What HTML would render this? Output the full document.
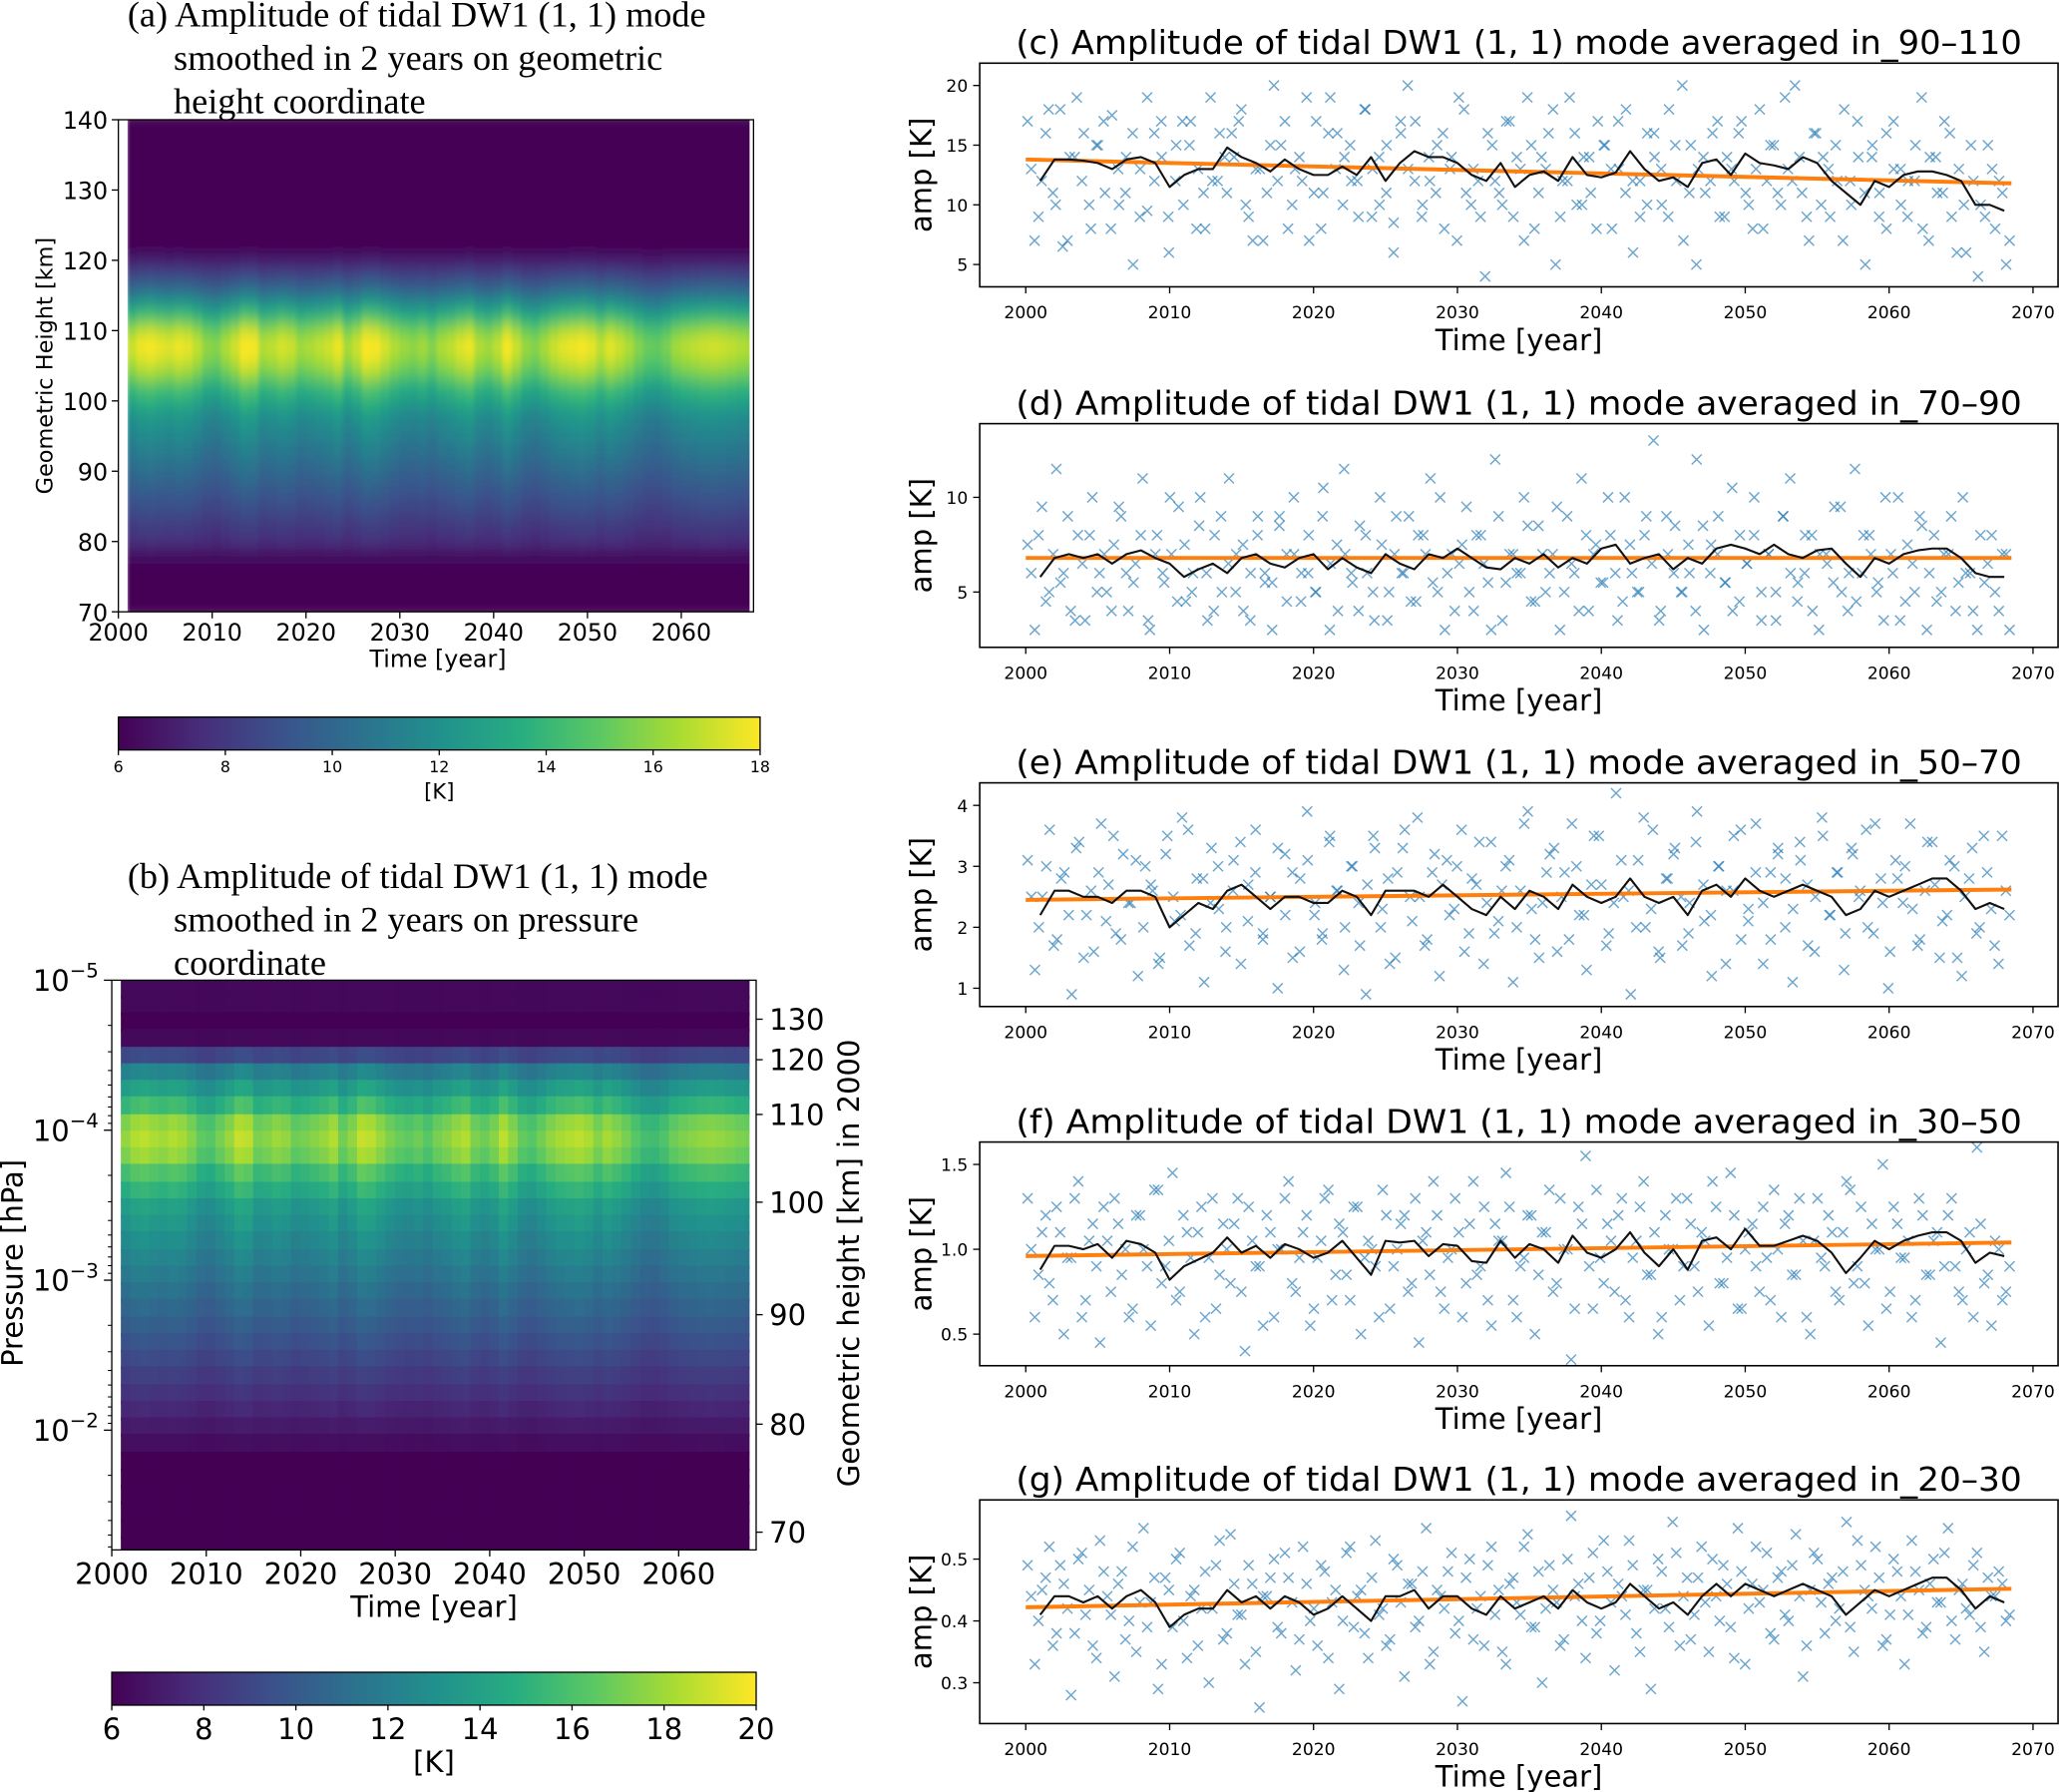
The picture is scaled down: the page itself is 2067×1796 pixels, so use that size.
<!DOCTYPE html>
<html><head><meta charset="utf-8"><style>
html,body{margin:0;padding:0;background:#fff;}
svg{display:block;}
text{font-family:"DejaVu Sans","Liberation Sans",sans-serif;fill:#000;}
.serif{font-family:"Liberation Serif",serif;}
</style></head><body>
<svg id="fig" xmlns="http://www.w3.org/2000/svg" width="2067" height="1796" viewBox="0 0 1568 1362" preserveAspectRatio="none">
<defs>
<filter id="blurA" x="-5%" y="-5%" width="110%" height="110%"><feGaussianBlur stdDeviation="1.5 5"/></filter>
<clipPath id="clipA"><rect x="97" y="91" width="473" height="374"/></clipPath>
<clipPath id="clipB"><rect x="91" y="745" width="479" height="433"/></clipPath>
<linearGradient id="vir" x1="0" x2="1" y1="0" y2="0">
<stop offset="0" stop-color="#440154"/><stop offset="0.125" stop-color="#472c7a"/><stop offset="0.25" stop-color="#3b518b"/><stop offset="0.375" stop-color="#2c718e"/><stop offset="0.5" stop-color="#21908d"/><stop offset="0.625" stop-color="#27ad81"/><stop offset="0.75" stop-color="#5cc863"/><stop offset="0.875" stop-color="#aadc32"/><stop offset="1" stop-color="#fde725"/>
</linearGradient>
</defs>
</svg>
<script>
// ---------- data ----------
const yearFactor = [1.02,1.08,1.1,1.07,1.05,1.08,1.06,1.0,0.92,0.9,0.97,1.03,1.12,1.1,0.98,1.0,1.04,1.02,0.95,0.97,1.0,1.03,1.08,0.96,1.02,1.12,1.1,1.04,0.98,0.94,0.92,0.95,0.9,0.97,1.0,1.05,1.08,0.98,0.95,1.0,1.1,1.02,0.93,0.9,0.96,1.02,1.06,1.08,1.1,1.07,1.0,1.06,1.02,0.97,0.9,0.85,0.84,0.88,0.95,0.98,1.0,1.02,1.03,1.02,1.0,0.98,0.97];
const heightsA = [70,72,74,76,78,80,82,84,86,88,90,92,94,96,98,100,102,104,106,108,110,112,114,116,118,120,122,124,126,128,130,132,134,136,138,140];
const profileA = [5,5,5,5.5,6.5,7.5,8,8.5,9,9.5,10,10.5,11,11.5,12,13,14,15.5,16.5,17,16,14,12,10,8.5,7,6,5.5,5.5,5.5,5.8,6.1,6.1,5.8,5.5,5.5];
const logpB = [-4.94,-4.83,-4.72,-4.61,-4.49,-4.38,-4.27,-4.16,-4.04,-3.93,-3.82,-3.71,-3.59,-3.48,-3.37,-3.26,-3.14,-3.03,-2.92,-2.81,-2.69,-2.58,-2.47,-2.36,-2.24,-2.13,-2.02,-1.91,-1.79,-1.68,-1.57,-1.46,-1.34,-1.23,-1.12];
const profileB = [6.3,6.3,6,6.3,9,12,13.5,15,17,17.5,17,15.5,14.5,13.5,13,12.5,12,11.5,11,10.5,10,9.5,9,8.5,8,7.5,7,6.5,5,5,5,5,5,5,5];
const rightHeights = [130,120,110,100,90,80,70];
const rightHeightLogp = [-4.74,-4.47,-4.105,-3.52,-2.77,-2.04,-1.32];
const xTicksLeft = [2000,2010,2020,2030,2040,2050,2060];
const xTicksRight = [2000,2010,2020,2030,2040,2050,2060,2070];
const cbTicksA = [6,8,10,12,14,16,18];
const cbTicksB = [6,8,10,12,14,16,18,20];

const scatterC = [17,7,12,18,10,6.5,14,19,16,8,15,11,17.5,10,14,5,13,9.5,16,17,9,12,17,15,8,11,19,12,14,16,17,10,7,13,11,20,15,8,13,12,7,17,11,19,16,14,12,9,18,13,10,15,8.5,17,20,12,9,14,11,16,13,7,18,10,12,4,15,11,17,9,13,19,8,14,16,5,12,19,10,14,11,17,15,8,13,18,6,12,10,16,13,9,15,20,11,5,14,12,17,9,13,16,11,8,18,12,15,10,13,20,11,7,16,14,9,12,18,10,14,5,15,11,8,17,13,9,12,19,7,14,11,16,6,10,15,4,9,13,12,5];
const scatterC2 = [13,9,16,11,18,7,14,12,10,15,17,8,13,11,16,9,19,12,14,6,15,10,17,13,8,12,16,11,14,18,9,13,7,15,12,17,10,14,19,11,8,16,13,10,15,12,18,9,14,11,6,16,13,17,10,12,15,8,14,19,11,13,9,16,12,10,17,14,7,15,11,13,18,9,12,16,10,14,8,15,13,17,11,12,9,16,14,10,18,12,7,15,13,11,16,9,14,12,17,10,13,8,15,11,19,12,14,9,16,10,13,15,7,12,17,11,14,9,16,13,10,12,15,8,14,11,17,9,13,6,12,10,15,8,11,7];
const smoothC = [12,13.8,13.8,13.7,13.5,13,13.8,14,13.5,11.5,12.5,13,13,14.8,14,13.5,12.8,13.8,13,12.5,12.5,13.2,12.5,14,12,13.5,14.5,14,14,13.5,12.5,12,13.5,11.5,12.5,12.8,12,14,12.5,12.3,12.7,14.5,13,12,12.3,11.5,13.5,13.8,12.5,14.3,13.5,13.3,13,14,13.5,12,11,10,12,11.5,12.5,12.8,12.8,12.5,12,10,10,9.5];
const trendC = [13.8,11.8];
const scatterD = [7.5,3,9.5,5,11.5,6,4,8,3.5,10,6,5,7.5,9,4,6.5,11,3,8,5.5,7,9.5,4.5,6,10,3.5,8,5,11,7,4,6,9,5.5,3,8.5,7,10,4.5,6,5,9,3,7.5,11.5,6,4,8,5,10,3.5,7,6,9,4.5,8,11,5,3,7,6.5,9.5,4,8,5.5,12,3.5,7,6,10,4.5,8.5,5,7,3,9,6,11,4,7.5,5.5,8,3.5,10,6,5,9,13,4,7,8.5,5,6,12,3,7.5,9,5.5,4,8,6.5,10,3.5,7,5,9,11,4.5,6,8,3,7,5.5,9.5,4,11.5,6,8,5,3.5,7,10,4.5,6.5,9,3,8,5,7,4,10,6,3,5.5,8,4,7];
const scatterD2 = [6,8,4.5,7,5.5,9,3.5,6.5,8,5,7,4,9.5,6,5.5,8,3.5,7,6,10,4.5,7.5,5,8.5,6,4,9,6.5,5,7.5,3.5,8,6,5.5,9,4.5,7,6,8,5,10.5,6.5,4,7,5.5,8.5,6,3.5,7.5,5,9,6,4.5,8,7,5.5,10,6,4,7.5,5,8,6.5,3,9,5.5,7,6,8.5,4.5,7,6,9.5,5,6.5,4,8,7,5.5,10,6,4.5,7.5,5,8,6.5,3.5,9,6,5,7.5,4,8.5,6,7,5.5,10.5,4.5,6.5,8,5,7,3.5,9,6,5.5,8,4,7,6.5,9.5,5,6,4.5,8,7,5.5,10,6,3.5,7.5,5,8.5,6,4.5,7,9,5.5,6,4,8,6.5,5,7,3];
const smoothD = [5.8,6.8,7,6.8,7,6.5,7,7.2,6.8,6.5,5.8,6.2,6.5,6,6.8,7,6.5,6.3,6.8,7,6.2,6.8,6.3,6,7,6.5,6.2,7,6.8,7.3,6.8,6.3,6.2,6.8,6.5,7,6.3,6.8,6.5,7.3,7.5,6.5,6.8,7,6.2,6.8,6.5,7.3,7.5,7.3,7,7.5,7,6.8,7.2,7.3,6.5,5.8,6.8,6.5,7,7.2,7.3,7.3,6.8,6,5.8,5.8];
const trendD = [6.8,6.8];
const scatterE = [3.1,1.3,2.5,3.6,1.8,2.9,0.9,3.4,2.2,1.6,3.7,2.7,1.9,3.2,2.4,1.2,3.0,2.6,1.5,3.5,2.1,3.8,1.7,2.8,1.1,3.3,2.3,2.0,3.1,1.4,2.7,3.6,1.9,2.5,1.0,3.2,2.9,1.6,3.9,2.2,1.8,3.4,2.6,1.3,3.0,2.4,0.9,3.5,2.0,2.8,1.5,3.3,2.5,3.8,1.7,2.9,1.2,3.1,2.3,3.6,1.9,2.7,1.4,3.4,2.1,3.0,1.1,2.6,3.9,1.8,2.4,3.2,1.6,2.9,3.7,2.2,1.3,3.5,2.7,1.9,4.2,2.5,0.9,3.1,2.0,3.6,1.5,2.8,3.3,1.7,2.4,3.9,2.1,1.2,3.0,2.6,3.5,1.8,2.3,3.7,1.4,2.9,3.2,2.0,1.1,3.4,2.7,1.6,3.8,2.2,2.9,1.3,3.3,2.5,3.6,1.9,2.8,1.0,3.1,2.4,3.7,1.7,2.6,3.4,1.5,2.2,3.0,1.2,2.8,1.9,3.5,2.3,1.4,2.6];
const scatterE2 = [2.5,2.0,3.0,1.7,2.8,2.2,3.3,1.5,2.6,2.9,2.1,3.5,1.8,2.4,3.1,2.0,2.7,1.4,3.2,2.5,2.2,3.6,1.9,2.8,2.4,3.0,1.6,2.6,3.4,2.1,2.9,1.8,2.5,3.3,2.2,1.5,2.8,3.1,2.4,1.9,3.5,2.6,2.0,3.0,1.7,2.7,3.3,2.3,1.4,2.9,3.6,2.1,2.5,1.8,3.2,2.7,2.2,3.0,1.6,2.8,3.4,2.4,1.9,2.6,3.1,2.0,3.7,2.3,1.5,2.9,3.3,2.5,1.8,3.0,2.2,2.7,3.5,1.7,2.4,3.1,2.6,2.0,3.8,2.3,1.6,2.8,3.2,2.5,1.9,3.4,2.7,2.2,3.0,1.4,2.6,3.6,2.1,2.9,2.4,1.8,3.3,2.8,2.3,3.1,1.7,2.5,3.5,2.2,2.9,1.9,3.2,2.6,2.0,3.7,2.4,1.6,2.8,3.0,2.3,1.8,3.4,2.7,2.1,3.1,1.5,2.5,3.3,2.0,2.9,1.7,3.5,2.2];
const smoothE = [2.2,2.6,2.6,2.5,2.5,2.4,2.6,2.6,2.5,2.0,2.2,2.4,2.3,2.6,2.7,2.5,2.3,2.5,2.5,2.4,2.4,2.6,2.5,2.2,2.6,2.6,2.6,2.5,2.7,2.5,2.3,2.2,2.5,2.3,2.6,2.5,2.3,2.7,2.5,2.4,2.5,2.8,2.5,2.4,2.5,2.2,2.6,2.7,2.5,2.8,2.6,2.5,2.6,2.7,2.6,2.5,2.2,2.3,2.6,2.5,2.6,2.7,2.8,2.8,2.6,2.3,2.4,2.3];
const trendE = [2.45,2.62];
const scatterF = [1.3,0.6,1.1,0.8,1.25,0.5,0.95,1.4,0.7,1.15,0.45,1.05,1.3,0.85,0.6,1.2,1.0,0.55,1.35,0.9,1.45,0.75,1.1,0.5,1.25,0.95,0.65,1.15,0.8,1.3,0.4,1.05,0.9,1.2,0.6,1.0,1.4,0.75,1.1,0.55,0.95,1.3,0.7,1.15,0.85,1.25,0.5,1.05,0.9,1.35,0.65,1.0,1.2,0.8,0.45,1.1,1.4,0.75,0.95,1.3,0.6,1.15,0.85,1.25,0.55,1.05,1.45,0.7,0.9,1.2,0.5,1.1,1.35,0.8,1.0,0.35,1.25,1.55,0.65,0.95,1.15,0.75,1.3,0.6,1.05,1.4,0.85,0.5,1.2,1.0,0.7,1.3,0.9,1.1,0.55,1.25,0.8,1.45,0.65,1.0,1.15,0.75,0.95,1.35,0.6,1.2,0.85,1.05,0.5,1.3,0.9,1.1,0.7,1.4,0.8,1.25,0.55,1.0,1.5,0.75,1.15,0.95,0.6,1.3,0.85,1.05,0.45,1.2,0.9,0.7,1.1,1.6,0.8,0.55,1.0,0.75];
const scatterF2 = [1.0,0.85,1.2,0.7,1.1,0.95,1.3,0.6,1.05,0.9,1.25,0.75,1.15,1.0,0.65,1.2,0.9,1.35,0.8,1.05,0.7,1.2,0.95,1.1,0.6,1.3,0.85,1.0,1.15,0.75,1.25,0.9,0.55,1.1,1.0,1.3,0.8,0.95,1.2,0.65,1.05,1.35,0.85,1.1,0.7,1.25,0.95,1.0,0.6,1.2,0.9,1.15,0.75,1.3,1.05,0.85,1.2,0.65,1.0,1.1,0.8,1.4,0.9,0.7,1.15,1.05,1.25,0.6,0.95,1.2,0.85,1.1,0.75,1.3,1.0,0.65,1.15,0.9,1.35,0.8,1.05,1.2,0.7,0.95,1.25,0.85,1.1,0.6,1.0,1.3,0.9,1.15,0.75,1.05,1.4,0.8,0.95,1.2,0.65,1.1,0.9,1.25,0.7,1.0,1.15,0.85,1.3,0.6,1.05,0.95,1.2,0.75,1.1,1.35,0.9,0.8,1.15,1.0,0.65,1.25,0.95,1.05,0.7,1.2,0.85,1.1,0.9,1.3,0.75,1.0,0.6,1.15,0.85,1.05,0.7,0.9];
const smoothF = [0.88,1.02,1.02,1.0,1.03,0.95,1.05,1.03,0.98,0.82,0.9,0.94,0.98,1.07,0.98,1.02,0.95,1.03,1.0,0.95,0.98,1.05,0.95,0.85,1.05,1.04,1.05,0.96,1.03,1.02,0.93,0.92,1.05,0.95,1.03,1.0,0.92,1.08,0.98,0.95,1.0,1.1,0.98,0.9,1.0,0.88,1.05,1.07,1.0,1.12,1.02,1.02,1.05,1.08,1.05,0.98,0.86,0.95,1.05,1.0,1.05,1.08,1.1,1.1,1.05,0.92,0.98,0.96];
const trendF = [0.96,1.04];
const scatterG = [0.49,0.33,0.45,0.52,0.38,0.46,0.28,0.50,0.41,0.36,0.53,0.44,0.31,0.48,0.40,0.35,0.55,0.43,0.29,0.47,0.39,0.51,0.34,0.45,0.42,0.30,0.49,0.37,0.54,0.41,0.33,0.46,0.26,0.44,0.50,0.38,0.47,0.32,0.52,0.40,0.36,0.48,0.43,0.29,0.51,0.39,0.45,0.34,0.53,0.42,0.37,0.49,0.31,0.46,0.40,0.55,0.35,0.44,0.48,0.38,0.27,0.50,0.42,0.36,0.52,0.45,0.33,0.47,0.41,0.54,0.39,0.30,0.49,0.43,0.37,0.57,0.46,0.34,0.51,0.40,0.48,0.32,0.44,0.53,0.38,0.45,0.29,0.50,0.42,0.56,0.36,0.47,0.41,0.52,0.35,0.44,0.49,0.39,0.55,0.33,0.46,0.43,0.51,0.37,0.48,0.40,0.54,0.31,0.45,0.50,0.38,0.47,0.42,0.56,0.35,0.49,0.44,0.52,0.36,0.41,0.48,0.33,0.53,0.45,0.39,0.50,0.43,0.55,0.37,0.46,0.41,0.51,0.35,0.44,0.48,0.40];
const scatterG2 = [0.44,0.40,0.47,0.36,0.49,0.42,0.38,0.51,0.45,0.34,0.48,0.41,0.46,0.37,0.52,0.43,0.39,0.47,0.33,0.45,0.50,0.40,0.44,0.36,0.48,0.42,0.53,0.38,0.46,0.41,0.49,0.35,0.44,0.47,0.39,0.51,0.43,0.37,0.46,0.42,0.49,0.34,0.45,0.40,0.52,0.44,0.38,0.47,0.41,0.36,0.50,0.43,0.46,0.39,0.48,0.33,0.45,0.42,0.51,0.40,0.47,0.37,0.44,0.49,0.41,0.35,0.46,0.43,0.52,0.39,0.48,0.42,0.45,0.36,0.50,0.44,0.40,0.47,0.38,0.53,0.43,0.46,0.41,0.49,0.35,0.45,0.42,0.48,0.39,0.51,0.44,0.37,0.47,0.43,0.50,0.40,0.46,0.34,0.48,0.42,0.52,0.45,0.38,0.47,0.41,0.49,0.44,0.36,0.51,0.43,0.46,0.40,0.48,0.39,0.53,0.45,0.42,0.47,0.37,0.50,0.44,0.41,0.48,0.38,0.46,0.43,0.51,0.40,0.45,0.42,0.49,0.39,0.47,0.44,0.46,0.41];
const smoothG = [0.41,0.44,0.44,0.43,0.44,0.42,0.44,0.45,0.43,0.39,0.41,0.42,0.42,0.45,0.43,0.44,0.42,0.44,0.43,0.41,0.42,0.44,0.42,0.40,0.44,0.44,0.45,0.42,0.44,0.44,0.42,0.41,0.44,0.42,0.43,0.44,0.42,0.45,0.43,0.42,0.43,0.46,0.44,0.42,0.43,0.41,0.44,0.46,0.44,0.46,0.45,0.44,0.45,0.46,0.45,0.44,0.41,0.43,0.45,0.44,0.45,0.46,0.47,0.47,0.45,0.42,0.44,0.43];
const trendG = [0.422,0.452];
const ticksC = [5,10,15,20], ticksD = [5,10], ticksE = [1,2,3,4], ticksF = [0.5,1.0,1.5], ticksG = [0.3,0.4,0.5];
const labelsF = ["0.5","1.0","1.5"], labelsG = ["0.3","0.4","0.5"];

// ---------- helpers ----------
const NS = "http://www.w3.org/2000/svg";
const fig = document.getElementById('fig');
function mk(tag, attrs, parent){
  const e = document.createElementNS(NS, tag);
  for (const k in attrs) e.setAttribute(k, attrs[k]);
  (parent || fig).appendChild(e);
  return e;
}
function txt(s, attrs, parent){ const t = mk('text', attrs, parent); t.textContent = s; return t; }
const VIR = [[68,1,84],[71,44,122],[59,81,139],[44,113,142],[33,144,141],[39,173,129],[92,200,99],[170,220,50],[253,231,37]];
function viridis(u){
  u = Math.max(0, Math.min(1, u));
  const p = u*8, i = Math.min(7, Math.floor(p)), f = p - i;
  const a = VIR[i], b = VIR[i+1];
  return 'rgb(' + [0,1,2].map(k => Math.round(a[k] + (b[k]-a[k])*f)).join(',') + ')';
}

// ---------- titles (left) ----------
function serifTitle(lines, x0, y0, name){
  const g = mk('g', {});
  
  
  lines.forEach((s, i) => {
    txt(s, {x: i === 0 ? x0 : x0 + 35, y: y0 + i*33, 'font-size': 27.5, class: 'serif'}, g);
  });
}
serifTitle(["(a) Amplitude of tidal DW1 (1, 1) mode", "smoothed in 2 years on geometric", "height coordinate"], 97, 20, 'panel-a-title');
serifTitle(["(b) Amplitude of tidal DW1 (1, 1) mode", "smoothed in 2 years on pressure", "coordinate"], 97, 675, 'panel-b-title');

// ---------- panel a ----------
(function(){
  const L = 90, R = 573, T = 91, B = 465, x0 = 2000, x1 = 2067.7;
  const sx = v => L + (v - x0) / (x1 - x0) * (R - L);
  const sy = h => B - (h - 70) / 70 * (B - T);
  const g = mk('g', {'clip-path': 'url(#clipA)'});
  
  
  const gi = mk('g', {filter: 'url(#blurA)'}, g);
  yearFactor.forEach((f, i) => {
    heightsA.forEach((h, j) => {
      const v = 6 + (profileA[j] - 6) * f;
      const c = mk('rect', {x: sx(2001 + i) - 0.5, y: sy(h + 1) - 0.5, width: sx(2002 + i) - sx(2001 + i) + 1, height: sy(h - 1) - sy(h + 1) + 1, fill: viridis((v - 6) / 12)}, gi);
      
      
    });
  });
  const fr = mk('rect', {x: L, y: T, width: R - L, height: B - T, fill: 'none', stroke: '#000', 'stroke-width': 1});
  
  
  [70,80,90,100,110,120,130,140].forEach(h => {
    mk('line', {x1: L - 5, x2: L, y1: sy(h), y2: sy(h), stroke: '#000'});
    const t = txt(h, {x: L - 8, y: sy(h) + 7, 'font-size': 18, 'text-anchor': 'end'});
    
    
  });
  xTicksLeft.forEach(yv => {
    mk('line', {x1: sx(yv), x2: sx(yv), y1: B, y2: B + 5, stroke: '#000'});
    const t = txt(yv, {x: sx(yv), y: B + 22, 'font-size': 18, 'text-anchor': 'middle'});
    
    
  });
  const xl = txt('Time [year]', {x: 333, y: 507, 'font-size': 18, 'text-anchor': 'middle'});
  
  
  const yl = txt('Geometric Height [km]', {x: 0, y: 0, 'font-size': 17, 'text-anchor': 'middle', transform: 'translate(40,278) rotate(-90)'});
  
  
  const cb = mk('rect', {x: 90, y: 545, width: 488, height: 25, fill: 'url(#vir)', stroke: '#000', 'stroke-width': 1});
  
  
  cbTicksA.forEach(v => {
    const x = 90 + (v - 6) / 12 * 488;
    mk('line', {x1: x, x2: x, y1: 570, y2: 574, stroke: '#000'});
    const t = txt(v, {x: x, y: 587, 'font-size': 12, 'text-anchor': 'middle'});
    
    
  });
  const u = txt('[K]', {x: 334, y: 607, 'font-size': 16, 'text-anchor': 'middle'});
  
  
})();

// ---------- panel b ----------
(function(){
  const L = 85, R = 575, T = 745, B = 1178, x0 = 2000, x1 = 2068.2;
  const sx = v => L + (v - x0) / (x1 - x0) * (R - L);
  const sy = lp => T + (lp + 5) * 114;
  const g = mk('g', {'clip-path': 'url(#clipB)'});
  
  
  const half = 0.066;
  yearFactor.forEach((f, i) => {
    logpB.forEach((lp, j) => {
      const v = 6 + (profileB[j] - 6) * f;
      const c = mk('rect', {x: sx(2001 + i) - 0.3, y: sy(lp - half), width: sx(2002 + i) - sx(2001 + i) + 0.6, height: sy(lp + half) - sy(lp - half), fill: viridis((v - 6) / 14)}, g);
      
      
    });
  });
  const fr = mk('rect', {x: L, y: T, width: R - L, height: B - T, fill: 'none', stroke: '#000', 'stroke-width': 1});
  
  
  [-5,-4,-3,-2].forEach(e => {
    mk('line', {x1: L - 6, x2: L, y1: sy(e), y2: sy(e), stroke: '#000'});
    const t = txt('', {x: L - 10, y: sy(e) + 8, 'font-size': 22, 'text-anchor': 'end'});
    
    
    const a = mk('tspan', {}, t); a.textContent = '10';
    const b = mk('tspan', {dy: -10, 'font-size': 15}, t); b.textContent = '\u2212' + (-e);
  });
  for (let e = -5; e < -1; e++) for (let k = 2; k <= 9; k++) {
    const lp = e + Math.log10(k);
    if (lp < -1.2) mk('line', {x1: L - 3, x2: L, y1: sy(lp), y2: sy(lp), stroke: '#000', 'stroke-width': 0.8});
  }
  rightHeights.forEach((h, i) => {
    const y = sy(rightHeightLogp[i]);
    mk('line', {x1: R, x2: R + 5, y1: y, y2: y, stroke: '#000'});
    const t = txt(h, {x: R + 10, y: y + 8, 'font-size': 22});
    
    
  });
  xTicksLeft.forEach(yv => {
    mk('line', {x1: sx(yv), x2: sx(yv), y1: B, y2: B + 5, stroke: '#000'});
    const t = txt(yv, {x: sx(yv), y: B + 26, 'font-size': 22, 'text-anchor': 'middle'});
    
    
  });
  const xl = txt('Time [year]', {x: 330, y: 1229, 'font-size': 22, 'text-anchor': 'middle'});
  
  
  const yl = txt('Pressure [hPa]', {x: 0, y: 0, 'font-size': 22, 'text-anchor': 'middle', transform: 'translate(17,960) rotate(-90)'});
  
  
  const yr = txt('Geometric height [km] in 2000', {x: 0, y: 0, 'font-size': 22, 'text-anchor': 'middle', transform: 'translate(653,960) rotate(-90)'});
  
  
  const cb = mk('rect', {x: 85, y: 1271, width: 490, height: 25, fill: 'url(#vir)', stroke: '#000', 'stroke-width': 1});
  
  
  cbTicksB.forEach(v => {
    const x = 85 + (v - 6) / 14 * 490;
    mk('line', {x1: x, x2: x, y1: 1296, y2: 1300, stroke: '#000'});
    const t = txt(v, {x: x, y: 1322, 'font-size': 22, 'text-anchor': 'middle'});
    
    
  });
  const u = txt('[K]', {x: 330, y: 1347, 'font-size': 22, 'text-anchor': 'middle'});
  
  
})();

// ---------- right panels ----------
function rightPanel(id, title, top, ymin, ymax, ticks, labels, scatter, scatter2, smooth, trend){
  const L = 745, R = 1565, T = top, B = top + 170, x0 = 1996.8, x1 = 2071.74;
  const sx = v => L + (v - x0) / (x1 - x0) * (R - L);
  const sy = v => B - (v - ymin) / (ymax - ymin) * (B - T);
  const g = mk('g', {});
  
  
  const tt = txt(title, {x: 1155, y: T - 7, 'font-size': 25, 'text-anchor': 'middle', textLength: 765, lengthAdjust: 'spacingAndGlyphs'}, g);
  
  
  const sg = mk('g', {stroke: '#1f77b4', 'stroke-opacity': 0.65, 'stroke-width': 1.1}, g);
  
  
  const drawSet = (arr, off) => {
    const n = arr.length;
    arr.forEach((v, i) => {
      const x = sx(2000 + (i + off) * 68.5 / n), y = sy(v), s = 3.8;
      const p = mk('path', {d: `M${x-s},${y-s}L${x+s},${y+s}M${x-s},${y+s}L${x+s},${y-s}`}, sg);
      
      
    });
  };
  drawSet(scatter, 0.25);
  drawSet(scatter2, 0.75);
  const tr = mk('line', {x1: sx(2000), y1: sy(trend[0]), x2: sx(2068.5), y2: sy(trend[1]), stroke: '#ff7f0e', 'stroke-width': 3}, g);
  
  
  const d = smooth.map((v, i) => (i ? 'L' : 'M') + sx(2001 + i).toFixed(1) + ',' + sy(v).toFixed(1)).join('');
  const sm = mk('path', {d: d, fill: 'none', stroke: '#111', 'stroke-width': 1.6, 'stroke-linejoin': 'round'}, g);
  
  
  const fr = mk('rect', {x: L, y: T, width: R - L, height: B - T, fill: 'none', stroke: '#000', 'stroke-width': 1.2}, g);
  
  
  ticks.forEach((v, i) => {
    mk('line', {x1: L - 5, x2: L, y1: sy(v), y2: sy(v), stroke: '#000'}, g);
    const t = txt(labels ? labels[i] : v, {x: L - 9, y: sy(v) + 5, 'font-size': 13, 'text-anchor': 'end'}, g);
    
    
  });
  xTicksRight.forEach(yv => {
    mk('line', {x1: sx(yv), x2: sx(yv), y1: B, y2: B + 5, stroke: '#000'}, g);
    const t = txt(yv, {x: sx(yv), y: B + 24, 'font-size': 13, 'text-anchor': 'middle'}, g);
    
    
  });
  const xl = txt('Time [year]', {x: 1155, y: B + 48, 'font-size': 22, 'text-anchor': 'middle'}, g);
  
  
  const yl = txt('amp [K]', {x: 0, y: 0, 'font-size': 22, 'text-anchor': 'middle', transform: `translate(708,${(T + B) / 2}) rotate(-90)`}, g);
  
  
}
rightPanel('c', '(c) Amplitude of tidal DW1 (1, 1) mode averaged in_90\u2013110', 48, 3.13, 21.87, ticksC, null, scatterC, scatterC2, smoothC, trendC);
rightPanel('d', '(d) Amplitude of tidal DW1 (1, 1) mode averaged in_70\u201390', 322, 2.08, 13.89, ticksD, null, scatterD, scatterD2, smoothD, trendD);
rightPanel('e', '(e) Amplitude of tidal DW1 (1, 1) mode averaged in_50\u201370', 595, 0.70, 4.37, ticksE, null, scatterE, scatterE2, smoothE, trendE);
rightPanel('f', '(f) Amplitude of tidal DW1 (1, 1) mode averaged in_30\u201350', 868, 0.314, 1.632, ticksF, labelsF, scatterF, scatterF2, smoothF, trendF);
rightPanel('g', '(g) Amplitude of tidal DW1 (1, 1) mode averaged in_20\u201330', 1140, 0.234, 0.5957, ticksG, labelsG, scatterG, scatterG2, smoothG, trendG);
</script>
</body></html>
